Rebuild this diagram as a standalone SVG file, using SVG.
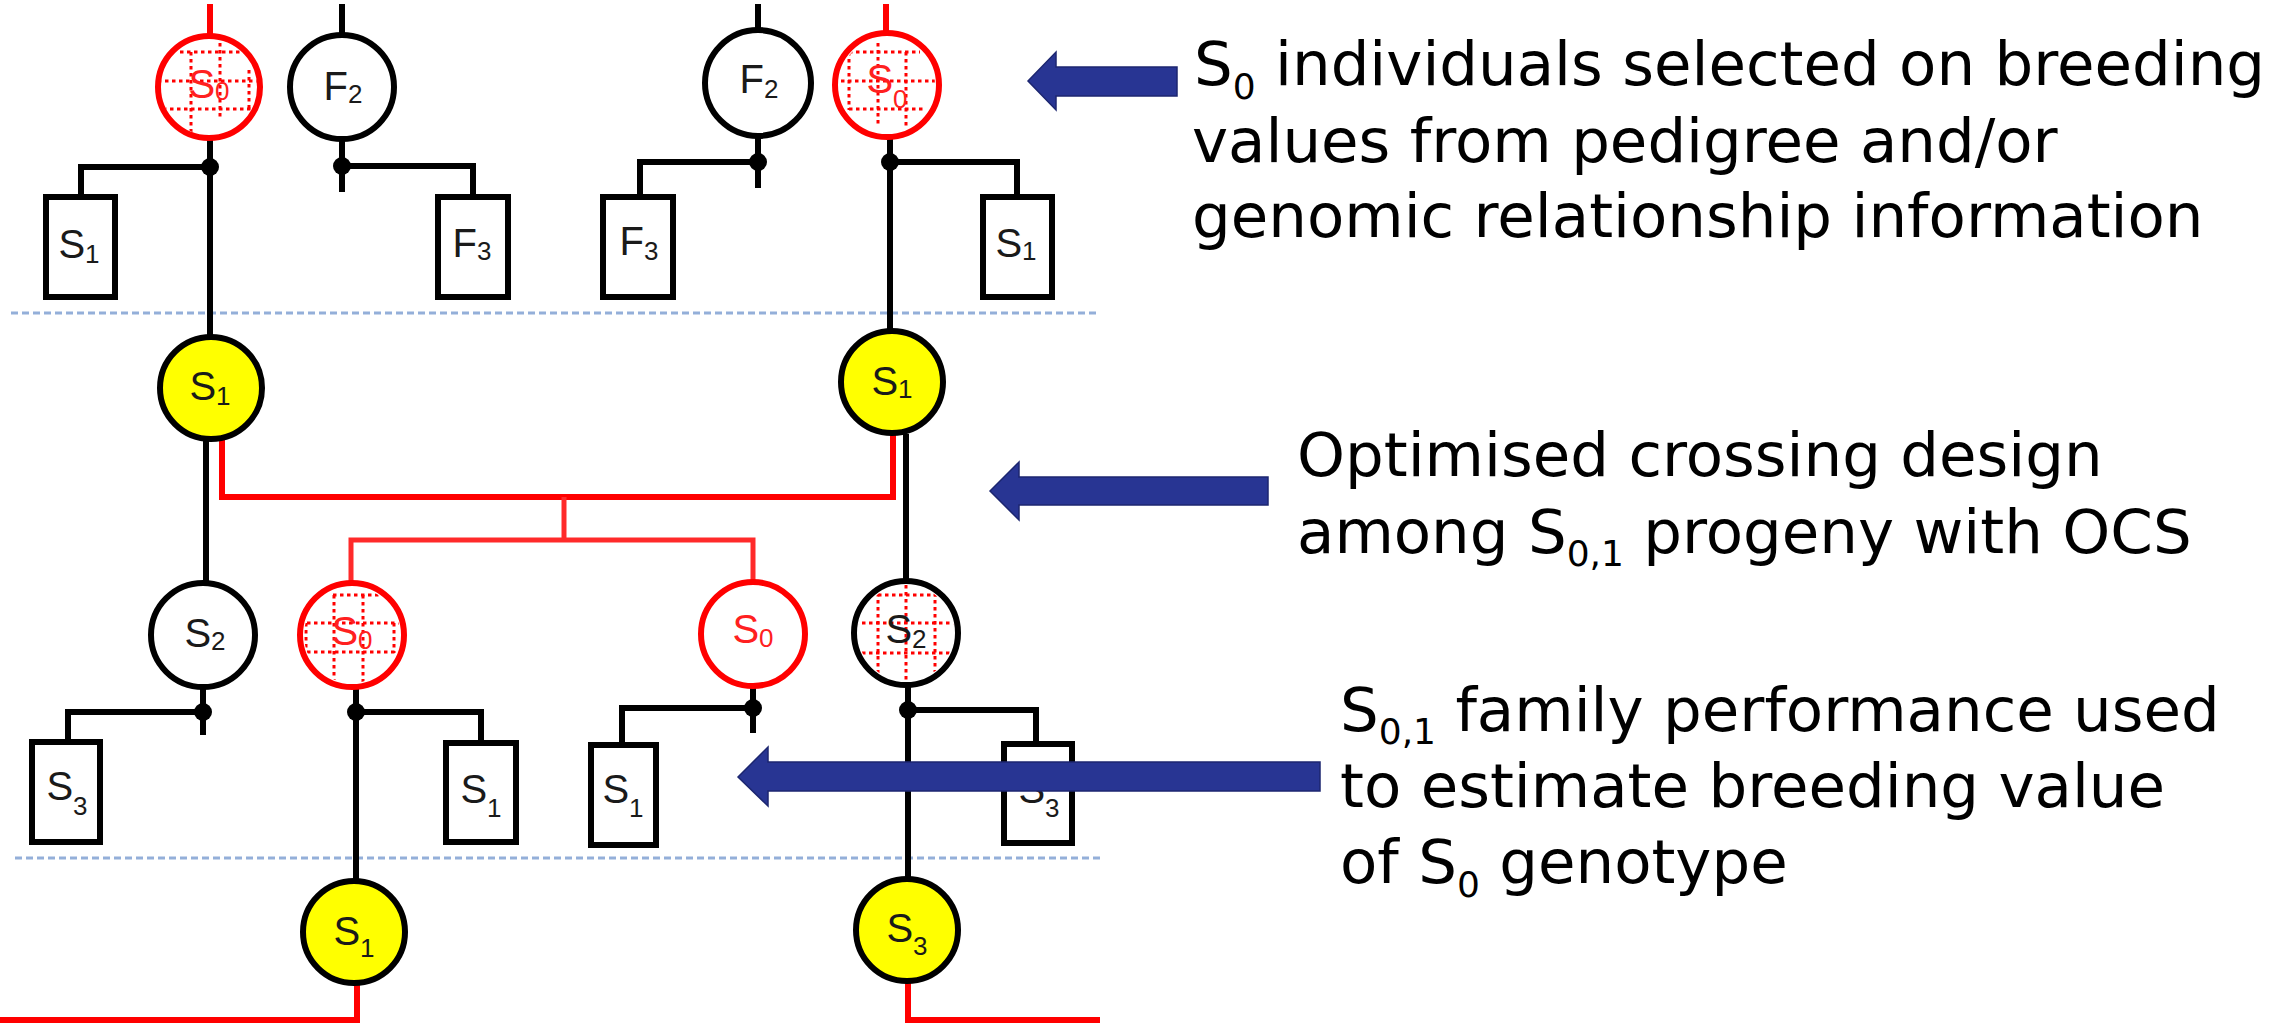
<svg xmlns="http://www.w3.org/2000/svg" width="2284" height="1024" viewBox="0 0 2284 1024">
<style>
.bl{stroke:#000;stroke-width:6;fill:none;stroke-linecap:butt}
.rd{stroke:#ff0000;stroke-width:6;fill:none}
.rdt{stroke:#ff2a2a;stroke-width:5;fill:none}
.dash{stroke:#94afd9;stroke-width:3;stroke-dasharray:7 4;fill:none}
.dot{fill:#000}
.cb{stroke:#000;stroke-width:6;fill:#fff}
.cr{stroke:#ff0000;stroke-width:6;fill:#fff}
.cy{stroke:#000;stroke-width:6;fill:#ffff00}
.box{stroke:#000;stroke-width:6;fill:#fff}
.hatch{stroke:#ff0000;stroke-width:3;stroke-dasharray:3.5 3.5;fill:none}
.lb{font-family:"Liberation Sans",Arial,sans-serif;font-size:40px;fill:#1a1a1a;text-anchor:middle}
.lr{font-family:"Liberation Sans",Arial,sans-serif;font-size:40px;fill:#ff2020;text-anchor:middle}
.sub{font-size:26px}
.side{font-family:"DejaVu Sans",Verdana,sans-serif;font-size:61px;fill:#000}
.ssub{font-size:36px}
.arrow{fill:#283593;stroke:#1c2670;stroke-width:1.5}
</style>
<defs>
<clipPath id="cl1"><circle cx="209" cy="87" r="48"/></clipPath>
<clipPath id="cl4"><circle cx="887" cy="85" r="48"/></clipPath>
<clipPath id="cl8"><circle cx="352" cy="635" r="48"/></clipPath>
<clipPath id="cl10"><circle cx="906" cy="633" r="48"/></clipPath>
</defs>
<rect width="2284" height="1024" fill="#fff"/>

<g id="separators">
<line class="dash" x1="11" y1="313" x2="1100" y2="313"/>
<line class="dash" x1="15" y1="858" x2="1100" y2="858"/>
</g>

<g id="connectors">
<line class="rd" x1="210" y1="4" x2="210" y2="36"/>
<line class="bl" x1="210" y1="138" x2="210" y2="337"/>
<polyline class="bl" points="210,167 81,167 81,197"/>
<line class="bl" x1="342" y1="4" x2="342" y2="35"/>
<line class="bl" x1="342" y1="139" x2="342" y2="192"/>
<polyline class="bl" points="342,166 473,166 473,197"/>
<line class="bl" x1="758" y1="4" x2="758" y2="30"/>
<line class="bl" x1="758" y1="136" x2="758" y2="188"/>
<polyline class="bl" points="758,162 640,162 640,197"/>
<line class="rd" x1="886" y1="4" x2="886" y2="32"/>
<line class="bl" x1="890" y1="138" x2="890" y2="330"/>
<polyline class="bl" points="890,162 1017,162 1017,197"/>
<circle class="dot" cx="210" cy="167" r="9"/>
<circle class="dot" cx="342" cy="166" r="9"/>
<circle class="dot" cx="758" cy="162" r="9"/>
<circle class="dot" cx="890" cy="162" r="9"/>
<line class="bl" x1="206" y1="440" x2="206" y2="583"/>
<line class="bl" x1="906" y1="434" x2="906" y2="581"/>
<polyline class="rd" points="222,438 222,497 893,497 893,434"/>
<line class="rdt" x1="564" y1="497" x2="564" y2="540"/>
<polyline class="rdt" points="351,584 351,540 753,540 753,582"/>
<line class="bl" x1="203" y1="688" x2="203" y2="735"/>
<polyline class="bl" points="203,712 68,712 68,742"/>
<line class="bl" x1="356" y1="688" x2="356" y2="880"/>
<polyline class="bl" points="356,712 481,712 481,743"/>
<line class="bl" x1="753" y1="686" x2="753" y2="733"/>
<polyline class="bl" points="753,708 622,708 622,745"/>
<line class="bl" x1="908" y1="686" x2="908" y2="878"/>
<polyline class="bl" points="908,710 1036,710 1036,744"/>
<circle class="dot" cx="203" cy="712" r="9"/>
<circle class="dot" cx="356" cy="712" r="9"/>
<circle class="dot" cx="753" cy="708" r="9"/>
<circle class="dot" cx="908" cy="710" r="9"/>
<polyline class="rd" points="357,984 357,1020 0,1020"/>
<polyline class="rd" points="908,982 908,1020 1100,1020"/>
</g>

<g id="n-s0-top-left">
<circle class="cr" cx="209" cy="87" r="51"/>
<g clip-path="url(#cl1)">
<line class="hatch" x1="180" y1="52" x2="248" y2="52"/>
<line class="hatch" x1="158" y1="81" x2="260" y2="81"/>
<line class="hatch" x1="163" y1="109" x2="252" y2="109"/>
<line class="hatch" x1="191" y1="52" x2="191" y2="133"/>
<line class="hatch" x1="220" y1="43" x2="220" y2="118"/>
<line class="hatch" x1="249" y1="70" x2="249" y2="110"/>
</g>
<text class="lr" x="209" y="98">S<tspan class="sub" dy="2">0</tspan></text>
</g>
<g id="n-f2-left">
<circle class="cb" cx="342" cy="87" r="52"/>
<text class="lb" x="343" y="100">F<tspan class="sub" dy="3">2</tspan></text>
</g>
<g id="n-f2-right">
<circle class="cb" cx="758" cy="83" r="53"/>
<text class="lb" x="759" y="93">F<tspan class="sub" dy="5">2</tspan></text>
</g>
<g id="n-s0-top-right">
<circle class="cr" cx="887" cy="85" r="52"/>
<g clip-path="url(#cl4)">
<line class="hatch" x1="849" y1="52" x2="920" y2="52"/>
<line class="hatch" x1="834" y1="81" x2="940" y2="81"/>
<line class="hatch" x1="849" y1="109" x2="925" y2="109"/>
<line class="hatch" x1="849" y1="52" x2="849" y2="110"/>
<line class="hatch" x1="878" y1="43" x2="878" y2="127"/>
<line class="hatch" x1="906" y1="52" x2="906" y2="127"/>
</g>
<text class="lr" x="887" y="93">S<tspan class="sub" dy="15">0</tspan></text>
</g>
<g id="box-s1-tl"><rect class="box" x="46" y="197" width="69" height="100"/>
<text class="lb" x="79" y="258">S<tspan class="sub" dy="5">1</tspan></text></g>
<g id="box-f3-l"><rect class="box" x="438" y="197" width="70" height="100"/>
<text class="lb" x="472" y="257">F<tspan class="sub" dy="3">3</tspan></text></g>
<g id="box-f3-r"><rect class="box" x="603" y="197" width="70" height="100"/>
<text class="lb" x="639" y="255">F<tspan class="sub" dy="5">3</tspan></text></g>
<g id="box-s1-tr"><rect class="box" x="983" y="197" width="69" height="100"/>
<text class="lb" x="1016" y="257">S<tspan class="sub" dy="3">1</tspan></text></g>

<g id="n-s1-yellow-left">
<circle class="cy" cx="211" cy="388" r="51"/>
<text class="lb" x="210" y="400">S<tspan class="sub" dy="5">1</tspan></text>
</g>
<g id="n-s1-yellow-right">
<circle class="cy" cx="892" cy="382" r="51"/>
<text class="lb" x="892" y="395">S<tspan class="sub" dy="3">1</tspan></text>
</g>

<g id="n-s2-left">
<circle class="cb" cx="203" cy="635" r="52"/>
<text class="lb" x="205" y="647">S<tspan class="sub" dy="3">2</tspan></text>
</g>
<g id="n-s0-bottom-hatched">
<circle class="cr" cx="352" cy="635" r="52"/>
<g clip-path="url(#cl8)">
<line class="hatch" x1="333" y1="595" x2="390" y2="595"/>
<line class="hatch" x1="300" y1="623" x2="400" y2="623"/>
<line class="hatch" x1="300" y1="652" x2="400" y2="652"/>
<line class="hatch" x1="334" y1="595" x2="334" y2="690"/>
<line class="hatch" x1="363" y1="595" x2="363" y2="690"/>
<line class="hatch" x1="306" y1="623" x2="306" y2="653"/>
<line class="hatch" x1="394" y1="623" x2="394" y2="653"/>
</g>
<text class="lr" x="352" y="645">S<tspan class="sub" dy="4">0</tspan></text>
</g>
<g id="n-s0-bottom-plain">
<circle class="cr" cx="753" cy="634" r="52"/>
<text class="lr" x="753" y="643">S<tspan class="sub" dy="4">0</tspan></text>
</g>
<g id="n-s2-right-hatched">
<circle class="cb" cx="906" cy="633" r="52"/>
<g clip-path="url(#cl10)">
<line class="hatch" x1="878" y1="595" x2="937" y2="595"/>
<line class="hatch" x1="855" y1="623" x2="955" y2="623"/>
<line class="hatch" x1="855" y1="653" x2="952" y2="653"/>
<line class="hatch" x1="878" y1="593" x2="878" y2="680"/>
<line class="hatch" x1="906" y1="585" x2="906" y2="680"/>
<line class="hatch" x1="935" y1="593" x2="935" y2="672"/>
</g>
<text class="lb" x="906" y="643">S<tspan class="sub" dy="5">2</tspan></text>
</g>
<g id="box-s3-bl"><rect class="box" x="32" y="742" width="68" height="100"/>
<text class="lb" x="67" y="800">S<tspan class="sub" dy="15">3</tspan></text></g>
<g id="box-s1-bm1"><rect class="box" x="446" y="743" width="70" height="99"/>
<text class="lb" x="481" y="803">S<tspan class="sub" dy="14">1</tspan></text></g>
<g id="box-s1-bm2"><rect class="box" x="591" y="745" width="65" height="100"/>
<text class="lb" x="623" y="803">S<tspan class="sub" dy="14">1</tspan></text></g>
<g id="box-s3-br"><rect class="box" x="1004" y="744" width="68" height="99"/>
<text class="lb" x="1039" y="803">S<tspan class="sub" dy="14">3</tspan></text></g>

<g id="n-s1-yellow-bottom">
<circle class="cy" cx="354" cy="932" r="51"/>
<text class="lb" x="354" y="945">S<tspan class="sub" dy="12">1</tspan></text>
</g>
<g id="n-s3-yellow-bottom">
<circle class="cy" cx="907" cy="930" r="51"/>
<text class="lb" x="907" y="942">S<tspan class="sub" dy="13">3</tspan></text>
</g>

<g id="arrows">
<polygon class="arrow" points="1028,81 1056,52 1056,67 1177,67 1177,96 1056,96 1056,110"/>
<polygon class="arrow" points="990,491 1019,462 1019,477 1268,477 1268,505 1019,505 1019,520"/>
<polygon class="arrow" points="738,777 768,747 768,762 1320,762 1320,791 768,791 768,806"/>
</g>

<g id="note-selection">
<text class="side" x="1194" y="85">S<tspan class="ssub" dy="14">0</tspan><tspan dy="-14"> individuals selected on breeding</tspan></text>
<text class="side" x="1192" y="162">values from pedigree and/or</text>
<text class="side" x="1192" y="237">genomic relationship information</text>
</g>
<g id="note-crossing">
<text class="side" x="1297" y="476">Optimised crossing design</text>
<text class="side" x="1297" y="553">among S<tspan class="ssub" dy="13">0,1</tspan><tspan dy="-13"> progeny with OCS</tspan></text>
</g>
<g id="note-family">
<text class="side" x="1340" y="731">S<tspan class="ssub" dy="13">0,1</tspan><tspan dy="-13"> family performance used</tspan></text>
<text class="side" x="1340" y="807">to estimate breeding value</text>
<text class="side" x="1340" y="883">of S<tspan class="ssub" dy="14">0</tspan><tspan dy="-14"> genotype</tspan></text>
</g>
</svg>
